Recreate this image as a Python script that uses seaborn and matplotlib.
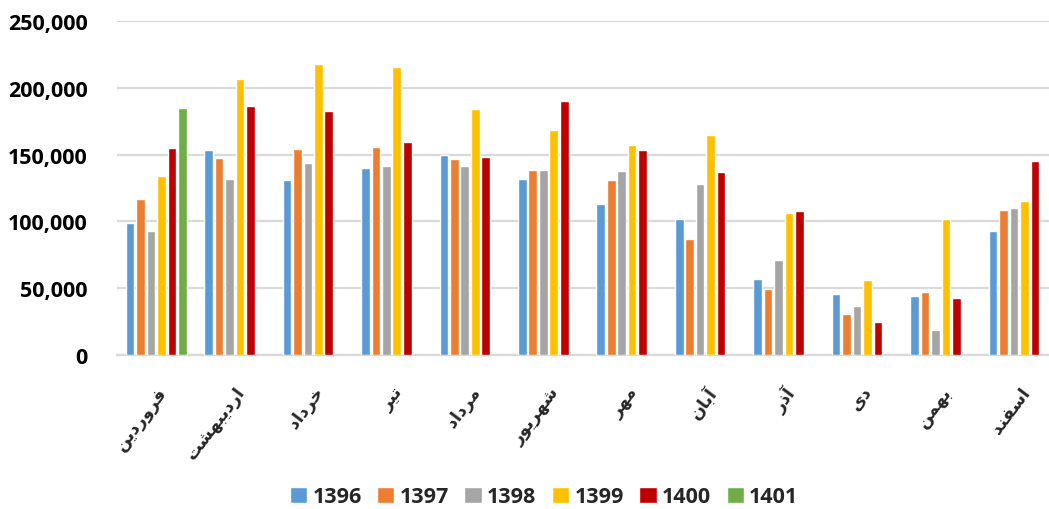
import matplotlib
matplotlib.use("Agg")
import matplotlib.pyplot as plt
import seaborn as sns
import pandas as pd

# ---------------- data ----------------
months = ["فروردین", "اردیبهشت", "خرداد", "تیر", "مرداد", "شهریور",
          "مهر", "آبان", "آذر", "دی", "بهمن", "اسفند"]
years = ["1396", "1397", "1398", "1399", "1400", "1401"]

v1396 = [98500, 153750, 131250, 140000, 149750, 132000, 113000, 102000, 57250, 45500, 44500, 92750]
v1397 = [116500, 147500, 154250, 156000, 146750, 138750, 130750, 86750, 49750, 30750, 47000, 108500]
v1398 = [93000, 132000, 144000, 141750, 141500, 138750, 137750, 127750, 71250, 36500, 18500, 110000]
v1399 = [134000, 206500, 218000, 215250, 184250, 168250, 157250, 164750, 106250, 56250, 101750, 115500]
v1400 = [154750, 186500, 183000, 159250, 148500, 190000, 153250, 137000, 107500, 24500, 43000, 145250]
v1401 = [185250]  # only فروردین

y_ticks = [0, 50000, 100000, 150000, 200000, 250000]
colors = ["#5B9BD5", "#ED7D31", "#A5A5A5", "#FFC000", "#C00000", "#70AD47"]

# ---------------- simple Arabic/Persian shaping for display ----------------
FORMS = {
    "ا": ("\uFE8D", "\uFE8E", None, None),
    "آ": ("\uFE81", "\uFE82", None, None),
    "ب": ("\uFE8F", "\uFE90", "\uFE91", "\uFE92"),
    "ت": ("\uFE95", "\uFE96", "\uFE97", "\uFE98"),
    "خ": ("\uFEA5", "\uFEA6", "\uFEA7", "\uFEA8"),
    "د": ("\uFEA9", "\uFEAA", None, None),
    "ذ": ("\uFEAB", "\uFEAC", None, None),
    "ر": ("\uFEAD", "\uFEAE", None, None),
    "س": ("\uFEB1", "\uFEB2", "\uFEB3", "\uFEB4"),
    "ش": ("\uFEB5", "\uFEB6", "\uFEB7", "\uFEB8"),
    "ف": ("\uFED1", "\uFED2", "\uFED3", "\uFED4"),
    "م": ("\uFEE1", "\uFEE2", "\uFEE3", "\uFEE4"),
    "ن": ("\uFEE5", "\uFEE6", "\uFEE7", "\uFEE8"),
    "ه": ("\uFEE9", "\uFEEA", "\uFEEB", "\uFEEC"),
    "و": ("\uFEED", "\uFEEE", None, None),
    "ی": ("\uFBFC", "\uFBFD", "\uFBFE", "\uFBFF"),
}


def shape(word):
    out = []
    n = len(word)
    for i, ch in enumerate(word):
        f = FORMS.get(ch)
        if f is None:
            out.append(ch)
            continue
        prev = word[i - 1] if i > 0 else None
        nxt = word[i + 1] if i < n - 1 else None
        jp = prev is not None and prev in FORMS and FORMS[prev][2] is not None
        jn = f[2] is not None and nxt is not None and nxt in FORMS
        if jp and jn:
            out.append(f[3])
        elif jp:
            out.append(f[1])
        elif jn:
            out.append(f[2])
        else:
            out.append(f[0])
    return "".join(reversed(out))


# ---------------- long table ----------------
rows = []
series = [v1396, v1397, v1398, v1399, v1400, v1401]
for yr, vals in zip(years, series):
    for m, v in zip(months, vals):
        rows.append({"month": m, "year": yr, "value": v})
df = pd.DataFrame(rows)

# ---------------- plot ----------------
sns.set_style("white")
plt.rcParams["font.family"] = ["Open Sans", "DejaVu Sans"]

fig = plt.figure(figsize=(10.49, 5.10), dpi=100)
ax = fig.add_axes([117 / 1049, 154 / 510, 941.4 / 1049, 334 / 510])

sns.barplot(data=df, x="month", y="value", hue="year", order=months,
            hue_order=years, palette=colors, saturation=1, width=0.8, gap=0.17,
            errorbar=None, ax=ax, zorder=3)

ax.set_ylim(0, 250000)
ax.set_xlim(-0.5, len(months) - 0.5)
ax.set_yticks(y_ticks)
ax.set_yticklabels([f"{t:,}" for t in y_ticks], fontsize=15.5,
                   fontweight="bold", color="#000000")
ax.yaxis.grid(True, color="#D9D9D9", linewidth=1.6, zorder=0)
ax.set_axisbelow(True)
ax.tick_params(axis="y", length=0, pad=21)
ax.tick_params(axis="x", length=0, pad=20)

ax.set_xticks(range(len(months)))
ax.set_xticklabels([shape(m) for m in months], rotation=53, ha="right",
                   va="top", rotation_mode="anchor",
                   fontsize=12.5, fontweight="bold", family="DejaVu Sans")
ax.set_xlabel("")
ax.set_ylabel("")

for s in ["top", "right", "left"]:
    ax.spines[s].set_visible(False)
ax.spines["bottom"].set_color("#D9D9D9")
ax.spines["bottom"].set_linewidth(1.6)

handles, labels = ax.get_legend_handles_labels()
if ax.legend_:
    ax.legend_.remove()
fig.legend(handles, labels, loc="center", bbox_to_anchor=(544 / 1049, 12 / 510),
           ncol=6, frameon=False, handlelength=0.8, handleheight=0.8,
           handletextpad=0.25, columnspacing=0.72,
           prop={"family": "Open Sans", "weight": "bold", "size": 15.5})

fig.savefig("out.png", dpi=100)
